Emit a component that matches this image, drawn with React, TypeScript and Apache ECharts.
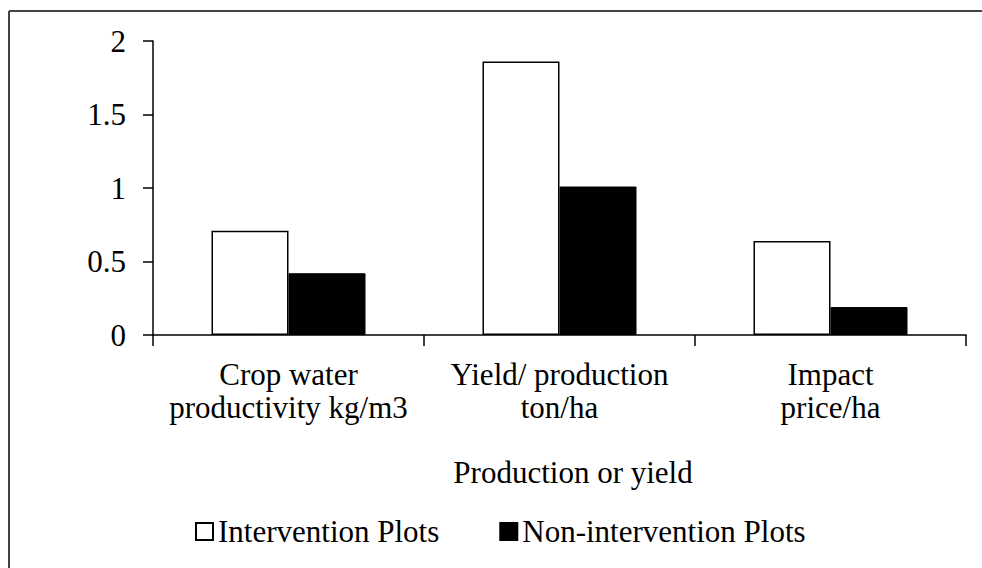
import React, { useEffect, useRef } from "react";
import * as echarts from "echarts";

const categories = [
  "Crop water\nproductivity kg/m3",
  "Yield/ production\nton/ha",
  "Impact\nprice/ha",
];
const interventionValues = [0.71, 1.86, 0.64];
const nonInterventionValues = [0.42, 1.01, 0.19];
const seriesNames = ["Intervention Plots", "Non-intervention Plots"];
const axisTitle = "Production or yield";

const FONT = '"Liberation Serif", "Times New Roman", serif';
const FS = 31;

export default function App() {
  const ref = useRef<HTMLDivElement>(null);
  useEffect(() => {
    document.body.style.margin = "0";
    const chart = echarts.init(ref.current!, null, { renderer: "svg" });
    chart.setOption({
      animation: false,
      backgroundColor: "#ffffff",
      textStyle: { fontFamily: FONT, color: "#000" },
      graphic: [
        {
          type: "line",
          shape: { x1: 9, y1: 11, x2: 1000, y2: 11 },
          style: { stroke: "#444", lineWidth: 2 },
          silent: true,
        },
        {
          type: "line",
          shape: { x1: 9, y1: 11, x2: 9, y2: 600 },
          style: { stroke: "#444", lineWidth: 2 },
          silent: true,
        },
      ],
      grid: { left: 153, right: 16, top: 41, bottom: 233, containLabel: false },
      legend: {
        left: 190,
        top: 511,
        itemWidth: 17,
        itemHeight: 17,
        itemGap: 60,
        icon: "rect",
        textStyle: { fontFamily: FONT, fontSize: FS, color: "#000" },
        data: seriesNames,
      },
      xAxis: {
        type: "category",
        data: categories,
        name: axisTitle,
        nameLocation: "middle",
        nameGap: 122,
        nameTextStyle: { fontFamily: FONT, fontSize: FS, color: "#000", padding: [0, 0, 0, 27] },
        axisLine: { lineStyle: { color: "#000", width: 1.5 } },
        axisTick: { show: true, length: 11, lineStyle: { color: "#000", width: 1.5 } },
        axisLabel: {
          fontFamily: FONT,
          fontSize: FS,
          color: "#000",
          lineHeight: 33,
          margin: 23,
          interval: 0,
        },
      },
      yAxis: {
        type: "value",
        min: 0,
        max: 2,
        interval: 0.5,
        splitLine: { show: false },
        axisLine: { show: true, lineStyle: { color: "#000", width: 1.5 } },
        axisTick: { show: true, length: 10, lineStyle: { color: "#000", width: 1.5 } },
        axisLabel: { fontFamily: FONT, fontSize: FS, color: "#000", margin: 27 },
      },
      series: [
        {
          name: seriesNames[0],
          type: "bar",
          data: interventionValues,
          barWidth: 77,
          barGap: "0%",
          itemStyle: { color: "#ffffff", borderColor: "#000", borderWidth: 1.5 },
        },
        {
          name: seriesNames[1],
          type: "bar",
          data: nonInterventionValues,
          barWidth: 77,
          barGap: "0%",
          itemStyle: { color: "#000000", borderColor: "#000", borderWidth: 1 },
        },
      ],
    });
    return () => chart.dispose();
  }, []);
  return (
    <div
      ref={ref}
      style={{ position: "absolute", left: 0, top: 0, width: 982, height: 568 }}
    />
  );
}
